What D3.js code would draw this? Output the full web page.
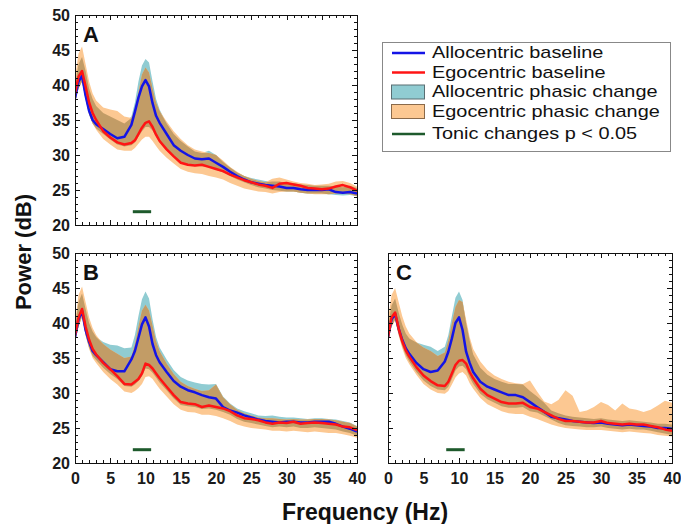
<!DOCTYPE html>
<html>
<head>
<meta charset="utf-8">
<script src="https://cdn.jsdelivr.net/npm/d3@7"></script>
<style>
body { margin: 0; background: #fff; }
svg { display: block; font-family: "Liberation Sans", Arial, sans-serif; }
</style>
</head>
<body>
<div id="chart-area"></div>
<script>
// frequency grid (Hz)
var freqs = [0,0.5,1,1.5,2,2.5,3, 4,5,6,7,8, 8.5,9,9.5,10,10.5,11,11.5,12,
             13,14,15,16,17,18,19,20, 21,22,23,24,25,26,27,28,29,30,
             31,32,33,34,35,36,37,38,39,40];

var xTicks = [0, 5, 10, 15, 20, 25, 30, 35, 40];
var yTicks = [20, 25, 30, 35, 40, 45, 50];

// panel A
var aBlue = [38.1,40.5,41.3,38.5,36.3,35.0,34.4, 33.7,33.0,32.4,32.6,34.3, 36.2,38.2,39.8,40.7,39.8,37.4,35.6,34.6,
             33.0,31.4,30.6,30.0,29.5,29.4,29.5,28.9, 28.3,27.6,27.0,26.5,26.1,25.9,25.7,25.6,25.5,25.3,
             25.3,25.1,25.0,25.0,25.0,25.1,24.7,24.6,24.7,24.5];
var aRed = [38.8,41.2,42.0,39.8,37.5,36.0,35.0, 33.4,32.5,31.8,31.5,31.7, 32.1,33.0,33.9,34.6,34.8,34.0,32.9,32.0,
            30.8,29.8,28.9,28.6,28.5,28.6,28.3,28.0, 27.7,27.2,26.8,26.4,26.1,25.8,25.6,25.3,25.9,26.0,
            25.8,25.6,25.3,25.2,25.1,25.2,25.5,25.7,25.4,24.9];
var aBlueHi = [40,43,44,42,39.5,38,37, 36,35.5,35,34.5,35.5, 37.5,40.5,42.8,43.7,43.2,40.5,38,36.5,
               34.5,33,32,31.2,30.5,30.3,30.6,30, 29,28.2,27.5,27,26.7,26.5,26.3,26.2,26.2,26,
               26,25.8,25.7,25.6,25.6,25.6,25.5,25.4,25.6,25.3];
var aBlueLo = [37.5,39.5,40.5,38,35.8,34.5,33.8, 33,32.2,31.5,31.2,31.4, 31.8,32.6,33.4,34,34,33.5,32.6,31.8,
               30.6,29.7,29,28.6,28.4,28.4,28.3,27.9, 27.5,27,26.5,26.1,25.7,25.4,25.2,25,24.9,24.8,
               24.8,24.6,24.5,24.5,24.5,24.4,24.3,24.2,24.3,24.1];
var aOrgHi = [41,44.5,45.5,43,40.5,38.8,37.8, 36.8,36.5,36.3,35.5,35.3, 36.5,39,41.5,42.5,41.8,39.5,37.5,36.3,
              34.8,33.4,32.3,31.4,30.8,30.5,30.3,30.0, 29.2,28.3,27.6,27.0,26.6,26.3,26.1,26.6,26.8,26.5,
              26.2,26.0,25.9,25.7,25.8,25.9,26.2,26.3,26.0,25.5];
var aOrgLo = [37.5,39.5,40.5,38,35.8,34.5,33.6, 32.3,31.5,30.8,30.6,30.6, 31,31.6,32.2,32.6,32.6,32,31.3,30.6,
              29.6,28.8,28,27.6,27.4,27.3,27,26.8, 26.5,26,25.6,25.2,25,24.8,24.7,24.5,24.7,24.8,
              24.8,24.6,24.5,24.4,24.4,24.4,24.5,24.5,24.4,24.1];

// panel B
var bBlue = [38.0,40.5,41.7,39.0,37.3,36.0,35.4, 34.4,33.4,33.1,33.1,34.8, 36.0,37.9,39.8,40.8,39.5,37.0,35.4,34.4,
             33.0,31.7,30.9,30.4,30.1,29.7,29.4,29.2, 28.0,27.5,27.2,26.8,26.5,26.2,26.0,25.9,25.8,25.9,
             25.9,25.8,25.8,25.9,25.9,25.9,25.6,25.2,24.9,24.5];
var bRed = [38.3,40.8,42.0,39.5,37.6,36.3,35.5, 34.3,33.4,32.4,31.3,31.2, 31.6,32.0,32.8,34.2,34.0,33.5,32.8,32.1,
            30.9,29.7,28.7,28.5,28.4,28.0,28.2,28.0, 27.8,27.4,26.8,26.4,26.3,26.1,25.8,25.6,25.8,25.7,
            25.9,25.6,25.7,25.8,25.7,25.6,25.5,25.2,25.1,24.7];
var bBlueHi = [39.5,43,44.2,42,40,38.8,38, 37.3,36.9,36.8,36.4,36.5, 38.3,41,43.4,44.5,43.5,40.5,38,36.5,
               34.8,33.3,32.3,31.8,31.5,31.3,31.2,31.3, 29.5,28.5,27.8,27.4,27.1,26.8,26.7,26.8,26.6,26.5,
               26.5,26.4,26.3,26.4,26.4,26.3,26.2,26.0,25.8,25.3];
var bBlueLo = [37.3,39.5,41,38.3,36.5,35.3,34.7, 33.6,32.7,32,31,30.9, 31.2,31.7,32.4,33.5,33.4,32.9,32.2,31.5,
               30.4,29.2,28.3,28.1,28,27.7,27.8,27.6, 27.3,26.9,26.3,25.9,25.7,25.5,25.3,25.1,25.2,25.1,
               25.2,25.0,25.0,25.1,25.0,24.9,24.8,24.5,24.3,23.9];
var bOrgHi = [40,44,45.2,43,40.8,39.3,38.3, 37,36.2,35.6,35,35.2, 37,39.5,41.8,42.6,41.8,39.6,37.4,36,
              34.2,32.7,31.6,31,30.6,30.3,30.4,31.2, 29.4,28.4,27.6,27.1,26.8,26.5,26.4,26.4,26.3,26.2,
              26.3,26.2,26.2,26.3,26.3,26.2,26.1,25.9,25.7,25.2];
var bOrgLo = [37.3,39.5,40.8,38.2,36.3,35,34.3, 33,32,31.2,30.2,30, 30.3,30.7,31.3,32.3,32.4,32,31.3,30.6,
              29.5,28.4,27.6,27.3,27.2,26.9,26.9,26.7, 26.4,26,25.5,25.2,25,24.9,24.8,24.6,24.6,24.5,
              24.6,24.5,24.4,24.5,24.4,24.3,24.3,24.1,23.9,23.6];

// panel C
var cBlue = [38.0,40.5,41.3,39.2,37.6,36.4,35.6, 34.3,33.4,33.0,33.2,34.5, 35.9,37.8,40.0,40.8,39.0,35.9,34.3,33.0,
             31.6,30.9,30.5,30.1,29.7,29.7,29.4,28.7, 28.0,27.3,26.6,26.4,26.2,26.0,25.9,25.8,25.7,25.8,
             25.6,25.5,25.4,25.5,25.4,25.3,25.2,25.0,25.0,24.9];
var cRed = [38.0,40.8,41.5,39.2,37.4,36.1,35.2, 33.7,32.5,31.7,31.1,31.0, 31.6,32.8,34.0,34.6,34.7,34.2,33.0,32.1,
            30.6,29.7,29.2,28.7,28.5,28.5,28.6,28.0, 27.8,27.3,26.8,26.3,26.0,26.0,25.9,25.8,25.8,26.0,
            25.7,25.6,25.5,25.6,25.5,25.5,25.3,25.1,24.8,24.6];
var cBlueHi = [39.5,42.5,43.5,41.5,39.8,38.5,37.8, 37.2,36.9,36.6,36,36.6, 38.3,41,43.6,44.5,43.3,40,37.5,35.5,
               33.6,32.6,32,31.6,31.3,31.3,31.2,30.3, 29.5,28.6,27.5,27.1,26.8,26.6,26.5,26.4,26.3,26.4,
               26.2,26.1,26,26.1,26,25.9,25.8,25.6,25.6,25.5];
var cBlueLo = [37.3,39.5,40.5,38.4,36.7,35.4,34.5, 33,31.8,31,30.5,30.4, 30.9,32,33.2,33.8,33.9,33.4,32.2,31.3,
               29.9,29.1,28.6,28.1,27.9,27.9,28,27.4, 27.2,26.7,26.2,25.7,25.4,25.3,25.2,25.1,25.1,25.2,
               25,24.9,24.8,24.9,24.8,24.8,24.6,24.4,24.2,24.0];
var cOrgHi = [40.5,44,45,43,41,39.5,38.5, 37.3,36.5,36,35.3,35.8, 37.5,40,42.3,43.3,43,40.5,38,36.3,
              34.5,33.3,32.5,32,31.6,31.4,31.3,31.8, 30.2,28.8,28.4,29.0,30.4,29.6,27.3,27.5,28.0,28.7,
              28.3,27.5,28.5,27.8,27.6,27.3,27.6,28.2,28.9,28.6];
var cOrgLo = [37.3,39.5,40.4,38.2,36.4,35,34.1, 32.6,31.3,30.5,30,29.9, 30.3,31.2,32.2,32.8,33,32.5,31.4,30.6,
              29.3,28.4,27.9,27.4,27.1,27,27,26.6, 26.3,25.9,25.5,25.2,25,24.9,24.8,24.7,24.7,24.7,
              24.6,24.5,24.4,24.5,24.4,24.3,24.2,24.0,23.9,23.8];

// tonic change marker: frequency span and level
var tonicRange = [8.2, 10.8];
var tonicLevel = 21.9;

var legendLabels = ["Allocentric baseline", "Egocentric baseline", "Allocentric phasic change",
                    "Egocentric phasic change", "Tonic changes p < 0.05"];

var blueColor = "#1414e6",
    redColor = "#ff1414",
    blueBand = "#90ccd2",
    orgBand = "#fcc892",
    overlapBand = "#c29c66",
    greenColor = "#1e5a2c";

var svg = d3.select("#chart-area")
            .append("svg")
            .attr("width", 681)
            .attr("height", 524);

var panels = [
  { name: "A", left: 75, top: 15, width: 282, height: 210, yLabels: true, xLabels: false,
    blue: aBlue, red: aRed, blueLo: aBlueLo, blueHi: aBlueHi, orgLo: aOrgLo, orgHi: aOrgHi },
  { name: "B", left: 75, top: 253, width: 282, height: 210, yLabels: true, xLabels: true,
    blue: bBlue, red: bRed, blueLo: bBlueLo, blueHi: bBlueHi, orgLo: bOrgLo, orgHi: bOrgHi },
  { name: "C", left: 388, top: 253, width: 284, height: 210, yLabels: false, xLabels: true,
    blue: cBlue, red: cRed, blueLo: cBlueLo, blueHi: cBlueHi, orgLo: cOrgLo, orgHi: cOrgHi }
];

panels.forEach(drawPanel);

function styleAxis(sel) {
  sel.select(".domain").remove();
  sel.attr("font-size", 16)
     .attr("font-family", "Liberation Sans, Arial, sans-serif")
     .attr("font-weight", "bold");
  sel.selectAll("text").attr("fill", "#1a1a1a");
  sel.selectAll("line").attr("stroke", "#111").attr("shape-rendering", "crispEdges");
}

function drawPanel(p) {
  var g = svg.append("g")
             .attr("transform", "translate(" + p.left + "," + p.top + ")");

  var x = d3.scaleLinear().domain([0, 40]).range([0, p.width]);
  var y = d3.scaleLinear().domain([20, 50]).range([p.height, 0]);

  var rows = freqs.map(function(f, i) {
    return { f: f, blue: p.blue[i], red: p.red[i],
             blueLo: p.blueLo[i], blueHi: p.blueHi[i],
             orgLo: p.orgLo[i], orgHi: p.orgHi[i] };
  });

  var clipId = "clip" + p.name;
  g.append("clipPath").attr("id", clipId)
   .append("rect").attr("width", p.width).attr("height", p.height);

  var plot = g.append("g").attr("clip-path", "url(#" + clipId + ")");

  function band(lo, hi) {
    return d3.area()
             .x(function(d) { return x(d.f); })
             .y0(function(d) { return y(d[lo]); })
             .y1(function(d) { return y(d[hi]); });
  }

  plot.append("path").datum(rows).attr("d", band("blueLo", "blueHi")).attr("fill", blueBand);
  plot.append("path").datum(rows).attr("d", band("orgLo", "orgHi")).attr("fill", orgBand);

  var overlap = d3.area()
                  .defined(function(d) { return Math.min(d.blueHi, d.orgHi) > Math.max(d.blueLo, d.orgLo); })
                  .x(function(d) { return x(d.f); })
                  .y0(function(d) { return y(Math.max(d.blueLo, d.orgLo)); })
                  .y1(function(d) { return y(Math.min(d.blueHi, d.orgHi)); });
  plot.append("path").datum(rows).attr("d", overlap).attr("fill", overlapBand);

  var line = function(key) {
    return d3.line()
             .x(function(d) { return x(d.f); })
             .y(function(d) { return y(d[key]); });
  };

  plot.append("path").datum(rows).attr("d", line("blue"))
      .attr("fill", "none").attr("stroke", blueColor).attr("stroke-width", 2.5)
      .attr("stroke-linejoin", "round");
  plot.append("path").datum(rows).attr("d", line("red"))
      .attr("fill", "none").attr("stroke", redColor).attr("stroke-width", 2.5)
      .attr("stroke-linejoin", "round");

  g.append("line")
   .attr("x1", x(tonicRange[0])).attr("x2", x(tonicRange[1]))
   .attr("y1", y(tonicLevel)).attr("y2", y(tonicLevel))
   .attr("stroke", greenColor).attr("stroke-width", 3);

  // axes, ticks pointing inward on all four sides
  var minorX = d3.range(0, 41, 1),
      minorY = d3.range(20, 51, 1);

  g.append("g").attr("transform", "translate(0," + p.height + ")")
   .call(d3.axisBottom(x).tickValues(minorX).tickSize(-3).tickFormat(""))
   .call(styleAxis);
  g.append("g").attr("transform", "translate(0," + p.height + ")")
   .call(d3.axisBottom(x).tickValues(xTicks).tickSize(-5).tickPadding(10)
           .tickFormat(p.xLabels ? d3.format("d") : ""))
   .call(styleAxis);
  g.append("g")
   .call(d3.axisTop(x).tickValues(minorX).tickSize(-3).tickFormat(""))
   .call(styleAxis);
  g.append("g")
   .call(d3.axisTop(x).tickValues(xTicks).tickSize(-5).tickFormat(""))
   .call(styleAxis);

  g.append("g")
   .call(d3.axisLeft(y).tickValues(minorY).tickSize(-3).tickFormat(""))
   .call(styleAxis);
  g.append("g")
   .call(d3.axisLeft(y).tickValues(yTicks).tickSize(-5).tickPadding(5)
           .tickFormat(p.yLabels ? d3.format("d") : ""))
   .call(styleAxis);
  g.append("g").attr("transform", "translate(" + p.width + ",0)")
   .call(d3.axisRight(y).tickValues(minorY).tickSize(-3).tickFormat(""))
   .call(styleAxis);
  g.append("g").attr("transform", "translate(" + p.width + ",0)")
   .call(d3.axisRight(y).tickValues(yTicks).tickSize(-5).tickFormat(""))
   .call(styleAxis);

  g.append("rect")
   .attr("x", 0.5).attr("y", 0.5)
   .attr("width", p.width).attr("height", p.height)
   .attr("fill", "none").attr("stroke", "#111").attr("stroke-width", 1)
   .attr("shape-rendering", "crispEdges");

  g.append("text")
   .attr("x", 8).attr("y", 27)
   .attr("font-size", 22).attr("font-weight", "bold")
   .attr("fill", "#111")
   .text(p.name);
}

// axis titles
svg.append("text")
   .attr("transform", "translate(31,252) rotate(-90)")
   .attr("text-anchor", "middle")
   .attr("font-size", 22).attr("font-weight", "bold")
   .attr("fill", "#111")
   .text("Power (dB)");

svg.append("text")
   .attr("x", 365).attr("y", 520)
   .attr("text-anchor", "middle")
   .attr("font-size", 23).attr("font-weight", "bold")
   .attr("fill", "#111")
   .text("Frequency (Hz)");

// legend
var legend = svg.append("g");
legend.append("rect")
      .attr("x", 382.5).attr("y", 42.5)
      .attr("width", 288).attr("height", 109)
      .attr("fill", "#fff").attr("stroke", "#888").attr("stroke-width", 1);

var legendY = [58, 77.5, 97, 116.5, 139];
var legendKinds = [
  { type: "line", color: blueColor },
  { type: "line", color: redColor },
  { type: "patch", color: blueBand, edge: "#5a6e72" },
  { type: "patch", color: orgBand, edge: "#8a6a4a" },
  { type: "line", color: greenColor }
];

legendLabels.forEach(function(label, i) {
  var k = legendKinds[i], base = legendY[i];
  if (k.type === "line") {
    legend.append("line")
          .attr("x1", 392).attr("x2", 425)
          .attr("y1", base - 5).attr("y2", base - 5)
          .attr("stroke", k.color).attr("stroke-width", 2.5);
  } else {
    legend.append("rect")
          .attr("x", 391.5).attr("y", base - 12)
          .attr("width", 33).attr("height", 14)
          .attr("fill", k.color).attr("stroke", k.edge).attr("stroke-width", 1);
  }
  var t = legend.append("text")
                .attr("x", 432).attr("y", base)
                .attr("font-size", 17)
                .attr("fill", "#111")
                .text(label);
  // glyphs in the reference are wider than tall at this line spacing
  var w = t.node().getComputedTextLength();
  t.attr("textLength", w * 1.17).attr("lengthAdjust", "spacingAndGlyphs");
});
</script>
</body>
</html>
